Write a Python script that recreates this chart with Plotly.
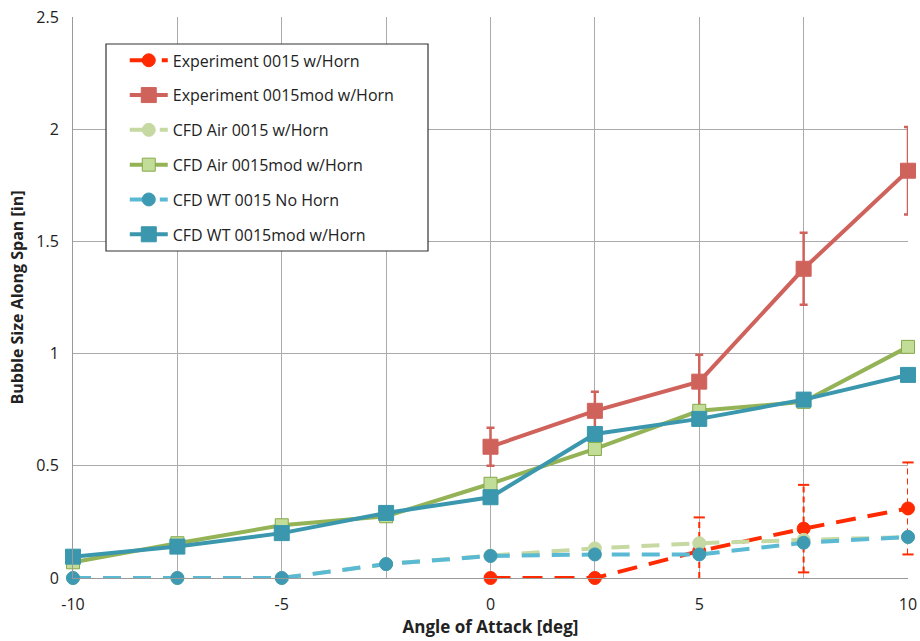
import plotly.graph_objects as go

aoa = [-10, -7.5, -5, -2.5, 0, 2.5, 5, 7.5, 10]
aoa_exp = [0, 2.5, 5, 7.5, 10]

exp_0015 = [0.0, 0.0, 0.12, 0.22, 0.31]
exp_0015_err = [0.0, 0.0, 0.15, 0.195, 0.205]

exp_0015mod = [0.585, 0.745, 0.875, 1.378, 1.815]
exp_0015mod_err = [0.085, 0.085, 0.12, 0.16, 0.195]

cfd_air_0015 = [0.0, 0.0, 0.0, 0.062, 0.10, 0.132, 0.155, 0.17, 0.182]
cfd_air_0015mod = [0.07, 0.155, 0.235, 0.275, 0.42, 0.575, 0.745, 0.785, 1.03]
cfd_wt_0015 = [0.0, 0.0, 0.0, 0.062, 0.098, 0.105, 0.105, 0.157, 0.183]
cfd_wt_0015mod = [0.095, 0.14, 0.20, 0.29, 0.36, 0.642, 0.709, 0.795, 0.905]

names = ["Experiment 0015 w/Horn", "Experiment 0015mod w/Horn", "CFD Air 0015 w/Horn",
         "CFD Air 0015mod w/Horn", "CFD WT 0015 No Horn", "CFD WT 0015mod w/Horn"]

FONT = "Open Sans"
fig = go.Figure()

def add(x, y, name, lc, dash, sym, mc, ms, mlc=None, err=None, grp=None):
    fig.add_trace(go.Scatter(
        x=x, y=y, name=name, mode="lines+markers", cliponaxis=False,
        line=dict(color=lc, width=4, dash=dash),
        marker=dict(symbol=sym, color=mc, size=ms,
                    line=dict(color=mlc or mc, width=1)),
        error_y=err, legendgroup=grp or name,
    ))

# dashed error bars for Experiment 0015 built from data
ex, ey, cx, cy = [], [], [], []
for xv, v, e in zip(aoa_exp, exp_0015, exp_0015_err):
    if e > 0:
        lo, hi = max(v - e, 0.0), v + e
        ex += [xv, xv, None]
        ey += [lo, hi, None]
        cx.append(xv)
        cy.append(hi)
        if v - e >= 0:
            cx.append(xv)
            cy.append(lo)
fig.add_trace(go.Scatter(x=ex, y=ey, mode="lines", showlegend=False, cliponaxis=False,
                         line=dict(color="#FF2A00", width=2, dash="6px,4px"),
                         hoverinfo="skip"))
fig.add_trace(go.Scatter(x=cx, y=cy, mode="markers", showlegend=False, cliponaxis=False,
                         marker=dict(symbol="line-ew", size=8,
                                     line=dict(color="#FF2A00", width=2)),
                         hoverinfo="skip"))

add(aoa_exp, exp_0015, names[0], "#FF2A00", "20px,12px", "circle", "#FF2A00", 13)
add(aoa_exp, exp_0015mod, names[1], "#D0625C", "solid", "square", "#D0625C", 15,
    err=dict(type="data", array=exp_0015mod_err, color="#D0625C", thickness=2.5, width=4))
add(aoa, cfd_air_0015, names[2], "#C6D9A3", "18px,12px", "circle", "#C6D9A3", 13)
add(aoa, cfd_air_0015mod, names[3], "#94B356", "solid", "square", "#C2DD98", 13, mlc="#86A94A")
add(aoa, cfd_wt_0015, names[4], "#5BBAD3", "18px,12px", "circle", "#3D9AB2", 13)
add(aoa, cfd_wt_0015mod, names[5], "#3A97AD", "solid", "square", "#3A97AD", 15)

xt = [-10, -7.5, -5, -2.5, 0, 2.5, 5, 7.5, 10]
xtt = ["-10", "", "-5", "", "0", "", "5", "", "10"]
yt = [0, 0.5, 1, 1.5, 2, 2.5]
ytt = ["0", "0.5", "1", "1.5", "2", "2.5"]

fig.update_layout(
    width=920, height=641,
    margin=dict(l=73, r=12, t=17, b=63, autoexpand=False),
    paper_bgcolor="white", plot_bgcolor="white",
    font=dict(family=FONT, size=14, color="#222"),
    xaxis=dict(range=[-10, 10], tickvals=xt, ticktext=xtt, automargin=False,
               showgrid=True, gridcolor="#ABABAB", gridwidth=1,
               showline=True, linecolor="#9A9A9A", mirror=False,
               zeroline=False, ticks="outside", ticklen=12, tickcolor="rgba(0,0,0,0)",
               tickfont=dict(size=16),
               title=dict(text="<b>Angle of Attack [deg]</b>", font=dict(size=17), standoff=3)),
    yaxis=dict(range=[0, 2.5], tickvals=yt, ticktext=ytt, automargin=False,
               showgrid=True, gridcolor="#ABABAB", gridwidth=1,
               showline=True, linecolor="#9A9A9A",
               zeroline=False, ticks="outside", ticklen=10, tickcolor="rgba(0,0,0,0)",
               tickfont=dict(size=16),
               title=dict(text="<b>Bubble Size Along Span [in]</b>", font=dict(size=16), standoff=8)),
    legend=dict(x=0.062, y=0.953, xanchor="left", yanchor="top",
                bgcolor="rgba(0,0,0,0)", borderwidth=0,
                font=dict(size=16, family=FONT), itemwidth=38,
                traceorder="grouped", tracegroupgap=11),
    shapes=[dict(type="rect", xref="paper", yref="paper",
                 x0=(106 - 73) / 835, x1=(428 - 73) / 835,
                 y0=(578 - 251) / 561, y1=(578 - 44) / 561,
                 line=dict(color="#333", width=1.2), fillcolor="white", layer="above")],
)
fig.write_html("out.html")
